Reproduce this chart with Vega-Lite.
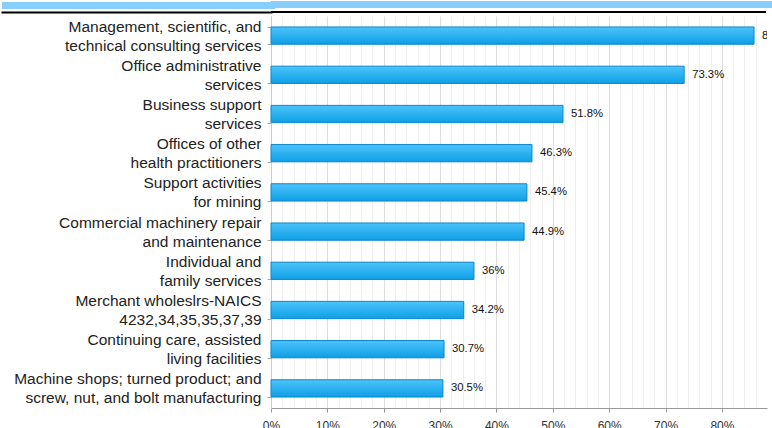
{
  "$schema": "https://vega.github.io/schema/vega-lite/v6.json",
  "padding": 0,
  "background": "white",
  "spacing": 2,
  "config": {"font": "Liberation Sans", "view": {"stroke": null}},
  "vconcat": [
    {
      "spacing": 0,
      "vconcat": [
        {
          "width": 502, "height": 7,
          "view": {"fill": "#87CEFA", "stroke": null},
          "data": {"values": [{"v": 0}]},
          "mark": {"type": "rule", "opacity": 0},
          "encoding": {
            "y": {"field": "v", "type": "quantitative",
              "scale": {"domain": [0, 7], "nice": false, "zero": false, "reverse": true},
              "axis": {"title": null, "values": [3.5], "labels": false, "domain": false, "grid": false,
                "tickSize": 266, "tickWidth": 7, "tickColor": "#87CEFA", "tickCap": "square"}}
          }
        },
        {
          "width": 495, "height": 2,
          "view": {"fill": "#000000", "stroke": null},
          "data": {"values": [{"v": 0}]},
          "mark": {"type": "rule", "opacity": 0},
          "encoding": {
            "y": {"field": "v", "type": "quantitative",
              "scale": {"domain": [0, 2], "nice": false, "zero": false, "reverse": true},
              "axis": {"title": null, "values": [1], "labels": false, "domain": false, "grid": false,
                "tickSize": 269, "tickWidth": 2, "tickColor": "#000000", "tickCap": "square"}}
          }
        }
      ]
    },
    {
      "width": 496,
      "height": 392,
      "view": {"stroke": null},
      "data": {
        "values": [
          {"order": 1, "industry": "Management, scientific, and|technical consulting services", "pct": 85.7, "label": "85.7%"},
          {"order": 2, "industry": "Office administrative|services", "pct": 73.3, "label": "73.3%"},
          {"order": 3, "industry": "Business support|services", "pct": 51.8, "label": "51.8%"},
          {"order": 4, "industry": "Offices of other|health practitioners", "pct": 46.3, "label": "46.3%"},
          {"order": 5, "industry": "Support activities|for mining", "pct": 45.4, "label": "45.4%"},
          {"order": 6, "industry": "Commercial machinery repair|and maintenance", "pct": 44.9, "label": "44.9%"},
          {"order": 7, "industry": "Individual and|family services", "pct": 36, "label": "36%"},
          {"order": 8, "industry": "Merchant wholeslrs-NAICS|4232,34,35,35,37,39", "pct": 34.2, "label": "34.2%"},
          {"order": 9, "industry": "Continuing care, assisted|living facilities", "pct": 30.7, "label": "30.7%"},
          {"order": 10, "industry": "Machine shops; turned product; and|screw, nut, and bolt manufacturing", "pct": 30.5, "label": "30.5%"}
        ]
      },
      "encoding": {
        "y": {
          "field": "industry", "type": "nominal",
          "sort": {"field": "order", "order": "ascending"},
          "scale": {"paddingInner": 0.56, "paddingOuter": 0.28},
          "axis": {
            "title": null,
            "labelExpr": "isValid(datum.value) ? split(datum.value, '|') : ''",
            "labelFontSize": {"condition": {"test": "!isValid(datum.value)", "value": 0}, "value": 15.5},
            "labelLineHeight": 19,
            "labelOffset": -9.5,
            "labelColor": "#222222",
            "labelPadding": 6,
            "labelLimit": 300,
            "tickBand": "extent",
            "tickSize": 4,
            "tickColor": "#aaaaaa",
            "domainColor": "#cccccc",
            "minExtent": 270,
            "maxExtent": 270
          }
        },
        "x": {
          "field": "pct", "type": "quantitative",
          "scale": {"domain": [0, 88], "nice": false},
          "axis": {
            "title": null,
            "values": [0,2,4,6,8,10,12,14,16,18,20,22,24,26,28,30,32,34,36,38,40,42,44,46,48,50,52,54,56,58,60,62,64,66,68,70,72,74,76,78,80,82,84,86],
            "labelExpr": "datum.value % 10 == 0 ? datum.value + '%' : ''",
            "labelFontSize": 12,
            "labelColor": "#333333",
            "labelPadding": 8,
            "labelFlush": false,
            "labelOverlap": false,
            "tickSize": 4,
            "tickColor": {"condition": {"test": "datum.value % 10 == 0", "value": "#999999"}, "value": "transparent"},
            "domainColor": "#999999",
            "grid": true,
            "gridColor": {"condition": {"test": "datum.value % 10 == 0", "value": "#dddddd"}, "value": "#efefef"}
          }
        }
      },
      "layer": [
        {
          "mark": {
            "type": "bar",
            "color": {"gradient": "linear", "x1": 0, "y1": 0, "x2": 0, "y2": 1,
              "stops": [{"offset": 0, "color": "#4cc4fb"}, {"offset": 1, "color": "#0e9fe6"}]},
            "stroke": "#0a86c8",
            "strokeWidth": 1
          }
        },
        {
          "mark": {"type": "text", "align": "left", "dx": 8, "fontSize": 11.3, "color": "#111111", "clip": true},
          "encoding": {"text": {"field": "label", "type": "nominal"}}
        }
      ]
    }
  ]
}
